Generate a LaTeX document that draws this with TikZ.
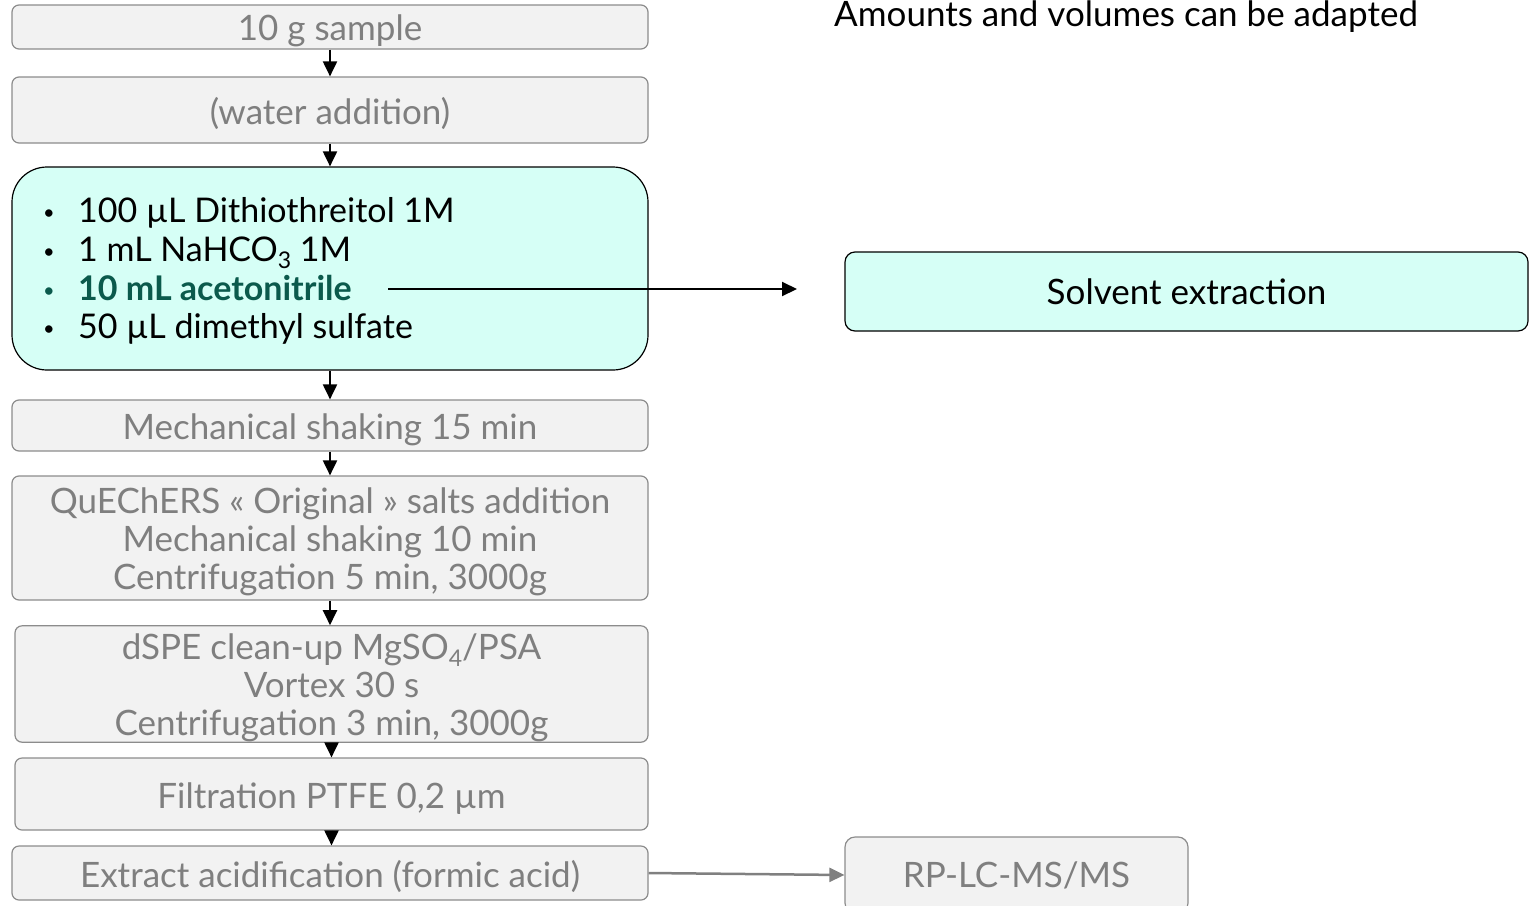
\documentclass[tikz,border=0pt]{standalone}
\usepackage{fontspec}
\setmainfont{Lato}
\usetikzlibrary{arrows.meta}
\definecolor{boxfill}{HTML}{F2F2F2}
\definecolor{boxline}{HTML}{8C8C8C}
\definecolor{greytext}{HTML}{7F7F7F}
\definecolor{mint}{HTML}{D6FFF6}
\definecolor{darkteal}{HTML}{0B5A4C}
\definecolor{greyarrow}{HTML}{808080}
\newcommand{\itembullet}{\makebox[35pt][l]{\raisebox{3pt}{\fontsize{20}{20}\selectfont •}}}
\newcommand{\lowsub}[1]{\raisebox{-7pt}{\fontsize{23}{23}\selectfont #1}}
\begin{document}
\begin{tikzpicture}[x=1pt,y=-1pt,
  stepbox/.style={draw=boxline, line width=1.2pt, fill=boxfill, rounded corners=7pt,
    text=greytext, font=\fontsize{35}{38}\selectfont, align=center, inner sep=0pt,
    text height=34pt},
  threelines/.style={text height=110pt},
  mintbox/.style={draw=black, line width=1.2pt, fill=mint, inner sep=0pt},
  itemtext/.style={anchor=base west, inner sep=0pt, font=\fontsize{34}{38}\selectfont},
  flow/.style={-{Triangle[length=15pt,width=14pt]}, line width=2pt},
  greyflow/.style={-{Triangle[length=15pt,width=14pt]}, line width=2.5pt, draw=greyarrow, fill=greyarrow},
]
\useasboundingbox (0,0) rectangle (1530,905);

% note at the top right
\node[itemtext, font=\fontsize{35}{38}\selectfont] (note) at (834,26) {Amounts and volumes can be adapted};

% main sequence of steps
\node[stepbox, minimum width=636pt, minimum height=44pt] (s1) at (330,27) {10 g sample};
\node[stepbox, minimum width=636pt, minimum height=66pt] (s2) at (330,110) {(water addition)};
\node[mintbox, rounded corners=35pt, minimum width=636pt, minimum height=203pt] (s3) at (330,268.5) {};
\node[stepbox, minimum width=636pt, minimum height=51pt] (s4) at (330,425.5) {Mechanical shaking 15 min};
\node[stepbox, threelines, minimum width=636pt, minimum height=124pt] (s5) at (330,538)
  {QuEChERS « Original » salts addition\\Mechanical shaking 10 min\\Centrifugation 5 min, 3000g};
\node[stepbox, threelines, minimum width=633pt, minimum height=114pt] (s6) at (331.5,684)
  {dSPE clean-up MgSO\lowsub{4}/PSA\\Vortex 30 s\\Centrifugation 3 min, 3000g};
\node[stepbox, minimum width=633pt, minimum height=72pt] (s7) at (331.5,794) {Filtration PTFE 0,2 µm};
\node[stepbox, minimum width=636pt, minimum height=54pt] (s8) at (330,873) {Extract acidification (formic acid)};

% reagent list inside the mint box
\node[itemtext] (r1) at (43,222) {\itembullet 100 µL Dithiothreitol 1M};
\node[itemtext] (r2) at (43,261) {\itembullet 1 mL NaHCO\lowsub{3} 1M};
\node[itemtext, text=darkteal] (r3) at (43,300) {\itembullet\textbf{10 mL acetonitrile}};
\node[itemtext] (r4) at (43,338) {\itembullet 50 µL dimethyl sulfate};

% side boxes
\node[mintbox, rounded corners=10pt, minimum width=683pt, minimum height=79pt,
  font=\fontsize{35}{38}\selectfont] (sx) at (1186.5,291.5) {Solvent extraction};
\node[stepbox, text height=26pt, rounded corners=10pt, minimum width=343pt, minimum height=76pt] (ms) at (1016.5,875) {RP-LC-MS/MS};

% connectors
\draw[flow] (s1.south) -- (s2.north);
\draw[flow] (s2.south) -- (s3.north);
\draw[flow] (s3.south) -- (s4.north);
\draw[flow] (s4.south) -- (s5.north);
\draw[flow] (s5.south) -- (s5.south |- s6.north);
\draw[flow] (s6.south) -- (s7.north);
\draw[flow] (s7.south) -- (s7.south |- s8.north);
\coordinate (acn) at (388,289);
\coordinate (sxin) at (797,289);
\draw[flow] (acn) -- (sxin);
\draw[greyflow] (s8.east) -- (ms.west);
\end{tikzpicture}
\end{document}
